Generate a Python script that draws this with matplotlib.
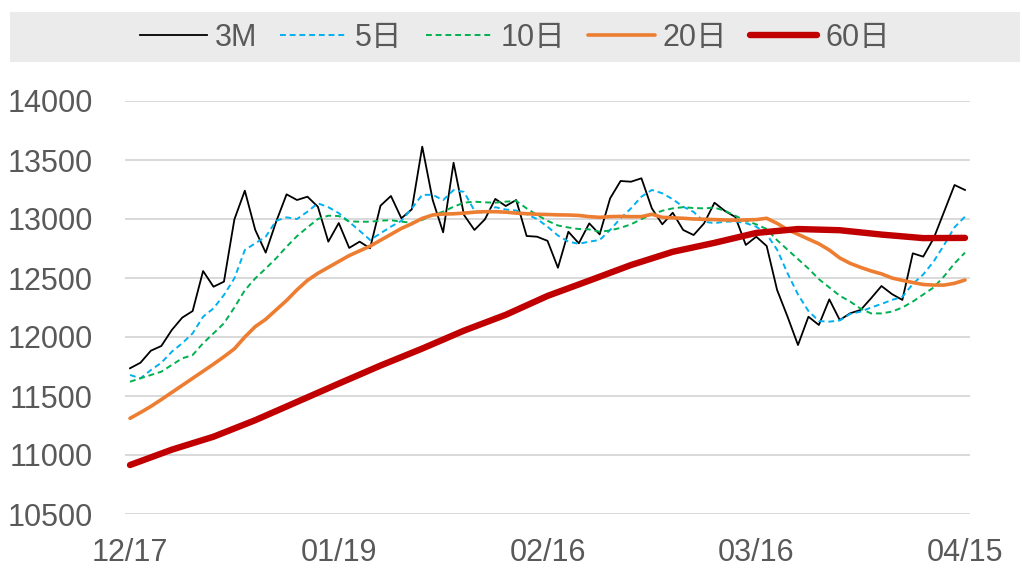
import matplotlib
matplotlib.use('Agg')
import matplotlib.pyplot as plt
from matplotlib.patches import Rectangle
import numpy as np

# ---------------- data ----------------
tick_labels = ['12/17', '01/19', '02/16', '03/16', '04/15']
tick_index = [0, 20, 40, 60, 80]

price_3m = [11735, 11782, 11884, 11924, 12059, 12164, 12220, 12559, 12426, 12469,
            12997, 13240, 12907, 12715, 12977, 13209, 13161, 13189, 13104, 12808,
            12966, 12755, 12808, 12752, 13113, 13195, 13006, 13082, 13613, 13161,
            12887, 13477, 13034, 12907, 12997, 13170, 13110, 13161, 12856, 12850,
            12815, 12587, 12892, 12794, 12963, 12870, 13175, 13322, 13316, 13345,
            13090, 12955, 13053, 12907, 12864, 12963, 13138, 13068, 13017, 12780,
            12850, 12771, 12398, 12172, 11932, 12172, 12102, 12319, 12144, 12201,
            12229, 12328, 12432, 12364, 12314, 12709, 12681, 12836, 13062, 13288,
            13246]

ma5 = [11678, 11650, 11720, 11782, 11875, 11947, 12031, 12172, 12243, 12356,
       12497, 12737, 12794, 12850, 12985, 13014, 13000, 13062, 13133, 13100,
       13050, 12975, 12900, 12822, 12879, 12935, 12985, 13090, 13205, 13205,
       13160, 13245, 13230, 13070, 13050, 13100, 13080, 13072, 13040, 13000,
       12935, 12860, 12808, 12790, 12808, 12822, 12907, 13006, 13090, 13189,
       13246, 13218, 13167, 13104, 13060, 12977, 12965, 12977, 12980, 12965,
       12935, 12870, 12740, 12540, 12360, 12220, 12135, 12130, 12140, 12195,
       12215, 12250, 12280, 12314, 12340, 12450, 12530, 12640, 12780, 12930,
       13020]

ma10 = [11621, 11650, 11678, 11706, 11763, 11819, 11847, 11947, 12031, 12116,
        12250, 12396, 12497, 12580, 12667, 12765, 12855, 12929, 13000, 13028,
        13025, 12980, 12977, 12977, 12986, 12990, 12977, 12969, 12992, 13034,
        13062, 13104, 13138, 13147, 13141, 13138, 13147, 13153, 13090, 13034,
        12985, 12945, 12928, 12915, 12912, 12892, 12903, 12925, 12955, 12999,
        13038, 13070, 13090, 13100, 13093, 13090, 13096, 13070, 13027, 12985,
        12955, 12915, 12820, 12740, 12660, 12580, 12490, 12420, 12350, 12300,
        12240, 12200, 12200, 12215, 12250, 12300, 12360, 12420, 12515, 12624,
        12715]

ma20 = [11311, 11360, 11412, 11470, 11530, 11590, 11650, 11710, 11770, 11833,
        11900, 12000, 12088, 12150, 12230, 12310, 12400, 12480, 12540, 12590,
        12640, 12690, 12730, 12770, 12820, 12870, 12920, 12960, 13005, 13034,
        13042, 13044, 13050, 13058, 13062, 13062, 13058, 13050, 13045, 13040,
        13038, 13035, 13034, 13030, 13020, 13014, 13020, 13022, 13020, 13020,
        13040, 13014, 13010, 13006, 13000, 12998, 12995, 12992, 12990, 12992,
        12995, 13006, 12963, 12910, 12870, 12830, 12790, 12737, 12670, 12624,
        12590, 12560, 12535, 12500, 12480, 12462, 12445, 12440, 12440, 12455,
        12483]

# 60-day line read every 4th trading day
ma60_step = 4
ma60 = [10915, 11045, 11155, 11295, 11450, 11605, 11758, 11902, 12054, 12188,
        12348, 12478, 12610, 12722, 12798, 12882, 12915, 12905, 12868, 12838,
        12840]

series_names = ['3M', '5日', '10日', '20日', '60日']

# ---------------- figure ----------------
plt.rcParams['font.family'] = ['Liberation Sans', 'Noto Sans CJK SC', 'DejaVu Sans']

W, H = 1022, 569
fig = plt.figure(figsize=(W / 100, H / 100), dpi=100)

# legend background band
fig.patches.append(Rectangle((10 / W, 1 - 62 / H), 1010 / W, 50 / H,
                             transform=fig.transFigure, facecolor='#EBEBEB',
                             edgecolor='none', zorder=0))

ax = fig.add_axes([124.8 / W, 55 / H, (970.2 - 124.8) / W, 413 / H])

x = np.arange(len(price_3m))
x60 = np.arange(0, len(price_3m), ma60_step)

h1, = ax.plot(x, price_3m, color='black', lw=1.3, zorder=3)
h2, = ax.plot(x, ma5, color='#00B0F0', lw=1.4, dashes=(3, 2), zorder=4)
h3, = ax.plot(x, ma10, color='#00B050', lw=1.4, dashes=(3, 2), zorder=5)
h4, = ax.plot(x, ma20, color='#ED7D31', lw=2.6, zorder=6, solid_capstyle='round')
h5, = ax.plot(x60, ma60, color='#C00000', lw=4.6, zorder=7, solid_capstyle='round')

ax.set_xlim(-0.5, len(price_3m) - 0.5)
ax.set_ylim(10500, 14000)
ax.set_yticks(np.arange(10500, 14001, 500))
ax.set_xticks(tick_index)
ax.set_xticklabels(tick_labels)
ax.grid(axis='y', color='#D9D9D9', lw=1.4)
ax.set_axisbelow(True)
for s in ax.spines.values():
    s.set_visible(False)
ax.tick_params(axis='both', length=0, labelsize=22, colors='#595959')
ax.tick_params(axis='y', pad=23)
ax.tick_params(axis='x', pad=17)

leg = fig.legend([h1, h2, h3, h4, h5], series_names, loc='center',
                 bbox_to_anchor=(515 / W, 1 - 38 / H), ncol=5, frameon=False,
                 fontsize=22, handlelength=2.2, handletextpad=0.25,
                 columnspacing=0.75, labelcolor='#595959')

fig.savefig('out.png', dpi=100)
